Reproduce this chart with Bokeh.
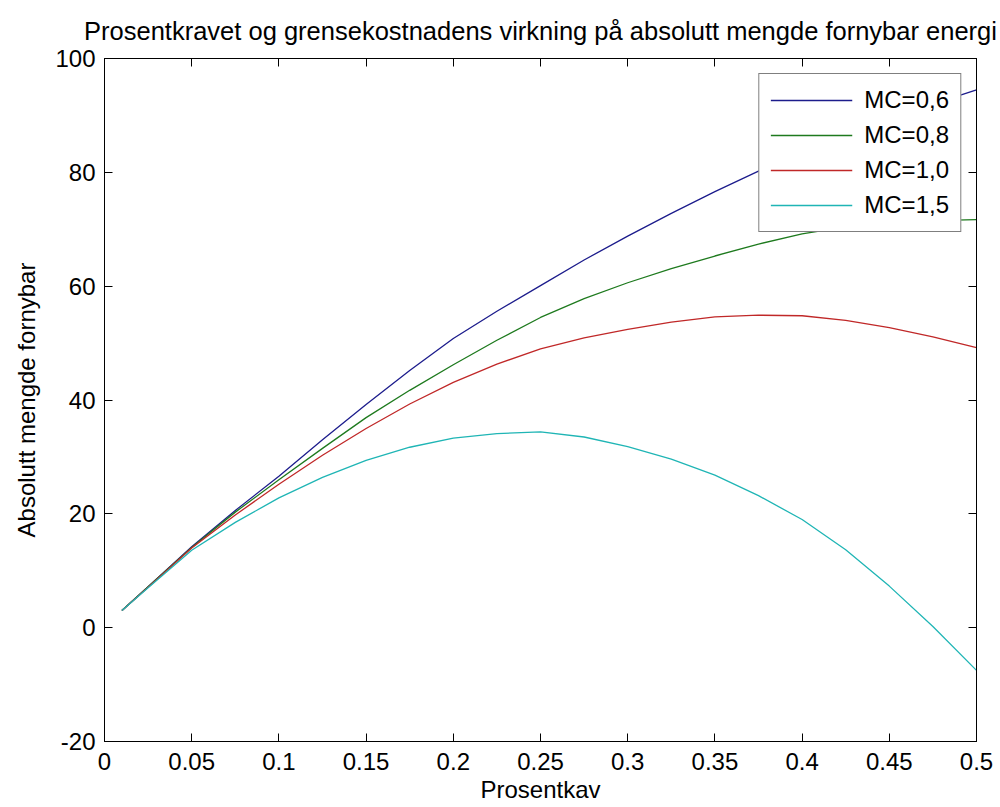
from bokeh.plotting import figure
from bokeh.models import Range1d, LinearAxis, FixedTicker, Legend, LegendItem
from bokeh.embed import file_html
from bokeh.resources import INLINE

# ---- data ----
x = [0.01, 0.025, 0.05, 0.075, 0.1, 0.125, 0.15, 0.175, 0.2, 0.225, 0.25,
     0.275, 0.3, 0.325, 0.35, 0.375, 0.4, 0.425, 0.45, 0.475, 0.5]
mc06 = [3.0, 7.2, 14.2, 20.6, 26.6, 33.0, 39.2, 45.2, 50.8, 55.6, 60.1,
        64.6, 68.8, 72.8, 76.6, 80.2, 83.6, 86.6, 89.4, 92.0, 94.5]
mc08 = [3.0, 7.2, 14.1, 20.3, 26.0, 31.5, 36.9, 41.7, 46.2, 50.5, 54.5,
        57.8, 60.6, 63.1, 65.3, 67.4, 69.2, 70.4, 71.1, 71.5, 71.7]
mc10 = [3.0, 7.1, 14.0, 19.8, 25.2, 30.3, 35.0, 39.3, 43.1, 46.3, 49.0,
        50.9, 52.4, 53.7, 54.6, 54.9, 54.8, 54.0, 52.7, 51.1, 49.2]
mc15 = [3.0, 7.0, 13.6, 18.5, 22.8, 26.4, 29.4, 31.7, 33.3, 34.1, 34.4,
        33.5, 31.8, 29.6, 26.8, 23.2, 19.0, 13.7, 7.3, 0.2, -7.5]
series_labels = ["MC=0,6", "MC=0,8", "MC=1,0", "MC=1,5"]
series_values = [mc06, mc08, mc10, mc15]
series_colors = ["#1c1c8c", "#1e7a1e", "#c02828", "#1fb5b5"]

xtick_values = [0, 0.05, 0.1, 0.15, 0.2, 0.25, 0.3, 0.35, 0.4, 0.45, 0.5]
xtick_labels = ["0", "0.05", "0.1", "0.15", "0.2", "0.25", "0.3", "0.35", "0.4", "0.45", "0.5"]
ytick_values = [-20, 0, 20, 40, 60, 80, 100]
ytick_labels = ["-20", "0", "20", "40", "60", "80", "100"]

title_text = "Prosentkravet og grensekostnadens virkning på absolutt mengde fornybar energi"
xlabel = "Prosentkav"
ylabel = "Absolutt mengde fornybar"

FONT = "Liberation Sans"
FS = "24px"

p = figure(width=1000, height=807, x_range=Range1d(0, 0.5), y_range=Range1d(-20, 100),
           output_backend="svg", toolbar_location=None,
           min_border_left=104, min_border_right=24, min_border_top=56, min_border_bottom=66)

p.title.text = title_text
p.title.align = "center"
p.title.text_font = FONT
p.title.text_font_size = "25.5px"
p.title.text_font_style = "normal"
p.title.text_color = "black"
p.title.standoff = 28

p.background_fill_color = "white"
p.border_fill_color = "white"
p.outline_line_color = "black"
p.outline_line_width = 1
p.xgrid.visible = False
p.ygrid.visible = False

def style_axis(ax, ticks, labels, show_labels=True):
    ax.ticker = FixedTicker(ticks=ticks)
    ax.major_label_overrides = {t: l for t, l in zip(ticks, labels)}
    ax.minor_tick_line_color = None
    ax.major_tick_in = 8
    ax.major_tick_out = 0
    ax.major_tick_line_color = "black"
    ax.axis_line_color = "black"
    ax.major_label_text_font = FONT
    ax.major_label_text_color = "black"
    ax.axis_label_text_font = FONT
    ax.axis_label_text_font_size = FS
    ax.axis_label_text_font_style = "normal"
    ax.axis_label_text_color = "black"
    if show_labels:
        ax.major_label_text_font_size = FS
    else:
        ax.major_label_text_font_size = "0px"
        ax.major_label_standoff = 0

xa = p.xaxis[0]
style_axis(xa, xtick_values, xtick_labels)
xa.major_label_standoff = 11
xa.axis_label = xlabel
xa.axis_label_standoff = 3

ya = p.yaxis[0]
style_axis(ya, ytick_values, ytick_labels)
ya.major_label_standoff = 9
ya.axis_label = ylabel
ya.axis_label_standoff = 12

top_ax = LinearAxis()
style_axis(top_ax, xtick_values, [""] * len(xtick_values), show_labels=False)
p.add_layout(top_ax, "above")
right_ax = LinearAxis()
style_axis(right_ax, ytick_values, [""] * len(ytick_values), show_labels=False)
p.add_layout(right_ax, "right")

items = []
for lab, vals, col in zip(series_labels, series_values, series_colors):
    r = p.line(x, vals, line_color=col, line_width=1.3)
    items.append(LegendItem(label=lab, renderers=[r]))

legend = Legend(items=items, location="top_right")
legend.label_text_font = FONT
legend.label_text_font_size = FS
legend.label_text_color = "black"
legend.glyph_width = 82
legend.glyph_height = 30
legend.label_height = 30
legend.label_standoff = 12
legend.spacing = 5
legend.padding = 11
legend.margin = 15
legend.border_line_color = "black"
legend.border_line_width = 1
legend.background_fill_color = "white"
legend.background_fill_alpha = 1
p.add_layout(legend, "center")

open("out.html", "w").write(file_html(p, INLINE))
